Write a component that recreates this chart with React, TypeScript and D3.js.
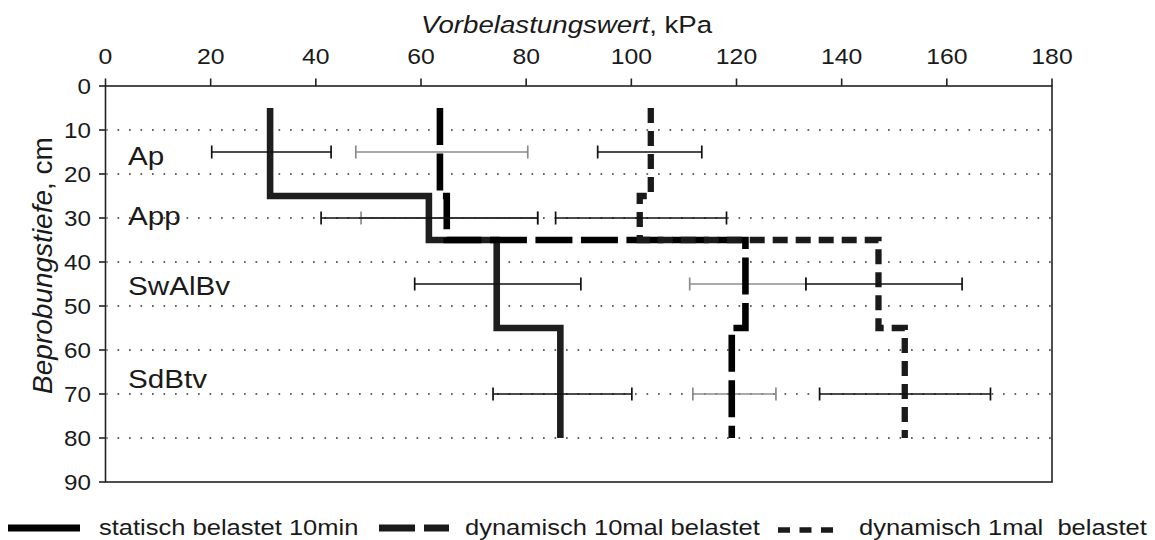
import React from "react";
import * as d3 from "d3";

// ---- data ----
const horizonTop = [5, 25, 35, 55];
const horizonBottom = [25, 35, 55, 80];
const horizonLabels = ["Ap", "App", "SwAlBv", "SdBtv"];
const labelDepths = [18, 31.6, 47.5, 68.6];
const barDepths = [15, 30, 45, 70];

const statisch = [31.3, 61.5, 74.4, 86.5];
const dyn10 = [63.6, 64.9, 121.7, 119.1];
const dyn1 = [103.7, 101.6, 147.0, 152.0];

const statischLo = [20.2, 41.0, 58.8, 73.7];
const statischHi = [42.9, 82.2, 90.4, 100.1];
const dyn10Lo = [47.6, 48.6, 111.1, 111.7];
const dyn10Hi = [80.3, 82.2, 133.2, 127.5];
const dyn1Lo = [93.6, 85.6, 133.2, 135.8];
const dyn1Hi = [113.4, 118.1, 162.9, 168.3];

const xTicks = [0, 20, 40, 60, 80, 100, 120, 140, 160, 180];
const yTicks = [0, 10, 20, 30, 40, 50, 60, 70, 80, 90];
const gridDepths = [10, 20, 30, 40, 50, 60, 70, 80];

const legendLabels = [
  "statisch belastet 10min",
  "dynamisch 10mal belastet",
  "dynamisch 1mal  belastet",
];

const FONT = "'Liberation Sans', Arial, Helvetica, sans-serif";
const INK = "#1a1a1a";

function SText(props: any) {
  const { x, y, size, sx = 1.14, anchor = "start", children, style } = props;
  return (
    <text
      transform={`translate(${x},${y}) scale(${sx},1)`}
      textAnchor={anchor}
      fontSize={size}
      fontFamily={FONT}
      fill={INK}
      style={{ whiteSpace: "pre", ...(style || {}) }}
    >
      {children}
    </text>
  );
}

export default function App() {
  const W = 1155;
  const H = 540;
  const x = d3.scaleLinear().domain([0, 180]).range([105.5, 1052]);
  const y = d3.scaleLinear().domain([0, 90]).range([86, 482]);

  const line = d3
    .line<[number, number]>()
    .x((d) => x(d[0]))
    .y((d) => y(d[1]));

  const stepPts = (vals: number[]): [number, number][] => {
    const pts: [number, number][] = [];
    vals.forEach((v, i) => {
      pts.push([v, horizonTop[i]]);
      pts.push([v, horizonBottom[i]]);
    });
    return pts;
  };

  const errBars = (lo: number[], hi: number[], color: string, key: string) =>
    lo.map((l, i) => {
      const yy = y(barDepths[i]);
      return (
        <g key={key + i} stroke={color} strokeWidth={1.7} fill="none">
          <line x1={x(l)} x2={x(hi[i])} y1={yy} y2={yy} />
          <line x1={x(l)} x2={x(l)} y1={yy - 6.5} y2={yy + 6.5} />
          <line x1={x(hi[i])} x2={x(hi[i])} y1={yy - 6.5} y2={yy + 6.5} />
        </g>
      );
    });

  const [x0, x1] = x.range();
  const [y0, y1] = y.range();

  return (
    <svg
      width={W}
      height={H}
      viewBox={`0 0 ${W} ${H}`}
      style={{ position: "fixed", left: 0, top: 0, background: "#fff" }}
    >
      <rect x={0} y={0} width={W} height={H} fill="#fff" />

      {/* grid */}
      {gridDepths.map((d) => (
        <line
          key={"g" + d}
          x1={x0 + 1}
          x2={x1 - 1}
          y1={y(d)}
          y2={y(d)}
          stroke="#333"
          strokeWidth={1.7}
          strokeDasharray="1.7 9.8"
          strokeDashoffset={-11}
        />
      ))}

      {/* frame */}
      <rect
        x={x0}
        y={y0}
        width={x1 - x0}
        height={y1 - y0}
        fill="none"
        stroke="#222"
        strokeWidth={1.6}
      />

      {/* top axis */}
      {xTicks.map((t) => (
        <g key={"xt" + t}>
          <line x1={x(t)} x2={x(t)} y1={y0} y2={y0 - 7.5} stroke="#222" strokeWidth={1.6} />
          <SText x={x(t)} y={63.5} size={22.5} sx={1.1} anchor="middle">
            {String(t)}
          </SText>
        </g>
      ))}

      {/* left axis */}
      {yTicks.map((t) => (
        <g key={"yt" + t}>
          <line x1={x0} x2={x0 - 6.5} y1={y(t)} y2={y(t)} stroke="#222" strokeWidth={1.6} />
          <SText x={91} y={y(t) + 7.8} size={22} sx={1.1} anchor="end">
            {String(t)}
          </SText>
        </g>
      ))}

      {/* title */}
      <SText x={421} y={33.3} size={24.5} sx={1.13}>
        <tspan fontStyle="italic">Vorbelastungswert</tspan>
        <tspan>, kPa</tspan>
      </SText>

      {/* y label */}
      <text
        transform={`translate(52,265.5) rotate(-90)`}
        textAnchor="middle"
        fontSize={28}
        fontFamily={FONT}
        fill={INK}
      >
        <tspan fontStyle="italic">Beprobungstiefe</tspan>
        <tspan>, cm</tspan>
      </text>

      {/* horizon labels */}
      {horizonLabels.map((lab, i) => (
        <SText key={lab} x={128} y={y(labelDepths[i])} size={26} sx={1.14}>
          {lab}
        </SText>
      ))}

      {/* gray error bars below lines */}
      {errBars(dyn10Lo, dyn10Hi, "#8c8c8c", "d10")}

      {/* lines */}
      <path d={line(stepPts(statisch)) || ""} fill="none" stroke="#1e1e1e" strokeWidth={6.6} strokeLinejoin="miter" />
      <path
        d={line(stepPts(dyn10)) || ""}
        fill="none"
        stroke="#000"
        strokeWidth={6.6}
        strokeDasharray="37 8.5"
        strokeLinejoin="miter"
      />
      <path
        d={line(stepPts(dyn1)) || ""}
        fill="none"
        stroke="#1a1a1a"
        strokeWidth={6.3}
        strokeDasharray="15 8"
        strokeLinejoin="miter"
      />

      {/* black error bars */}
      {errBars(statischLo, statischHi, "#111", "st")}
      {errBars(dyn1Lo, dyn1Hi, "#111", "d1")}

      {/* legend */}
      <line x1={8} x2={80} y1={528} y2={528} stroke="#000" strokeWidth={7} />
      <SText x={99} y={535.3} size={21.5} sx={1.187}>
        {legendLabels[0]}
      </SText>
      <line x1={379} x2={449} y1={528} y2={528} stroke="#1a1a1a" strokeWidth={7} strokeDasharray="36 9" />
      <SText x={465} y={535.3} size={21.5} sx={1.187}>
        {legendLabels[1]}
      </SText>
      <line x1={778} x2={834} y1={530} y2={530} stroke="#1a1a1a" strokeWidth={5.5} strokeDasharray="12 9.5" />
      <SText x={859} y={535.3} size={21.5} sx={1.187}>
        {legendLabels[2]}
      </SText>
    </svg>
  );
}
